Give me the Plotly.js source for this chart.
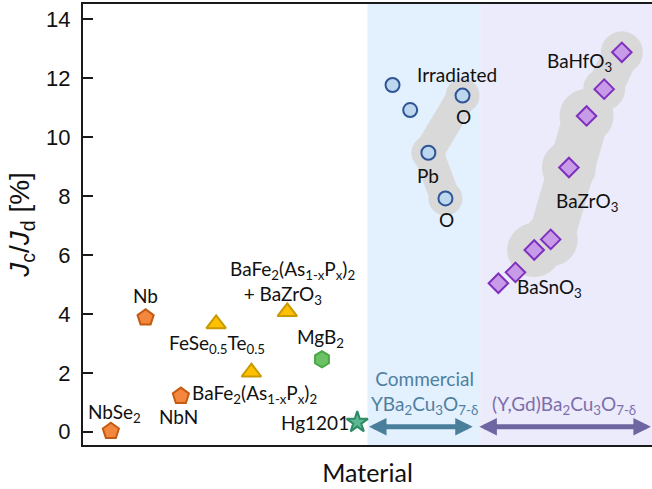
<!DOCTYPE html>
<html>
<head>
<meta charset="utf-8">
<script src="https://cdn.plot.ly/plotly-3.0.1.min.js"></script>
<style>html,body{margin:0;padding:0;background:#fff;}#chart{width:652px;height:489px;}</style>
</head>
<body>
<div id="chart"></div>
<script>
// ---- data ----
// conventional superconductors (x = material position index, y = Jc/Jd in %)
const convNames = ["NbSe<sub>2</sub>", "Nb", "NbN"];
const convX = [0.49, 1.10, 1.72];
const convY = [0.02, 3.87, 1.21];

const feNames = ["FeSe<sub>0.5</sub>Te<sub>0.5</sub>", "BaFe<sub>2</sub>(As<sub>1-x</sub>P<sub>x</sub>)<sub>2</sub>", "BaFe<sub>2</sub>(As<sub>1-x</sub>P<sub>x</sub>)<sub>2</sub><br>+ BaZrO<sub>3</sub>\u00a0\u00a0\u00a0\u00a0"];
const feX = [2.34, 2.96, 3.59];
const feY = [3.66, 2.02, 4.07];

const mgbX = [4.20];
const mgbY = [2.46];

const hgX = [4.82];
const hgY = [0.32];

// commercial YBCO (irradiated)
const ybcoX = [5.44, 5.75, 6.67, 6.07, 6.37];
const ybcoY = [11.77, 10.92, 11.41, 9.47, 7.92];
const ybcoIrrIdx = [2, 3, 4];   // O, Pb, O irradiated group

// (Y,Gd)BCO with artificial pinning centres
const gdX = [9.47, 9.16, 8.85, 8.54, 8.22, 7.93, 7.60, 7.30];
const gdY = [12.88, 11.63, 10.72, 8.97, 6.53, 6.17, 5.41, 5.04];
const hfIdx = [0, 1];
const zrIdx = [2, 3, 4, 5];

// material regions
const regionNames = ["Commercial<br>YBa<sub>2</sub>Cu<sub>3</sub>O<sub>7-δ</sub>", "(Y,Gd)Ba<sub>2</sub>Cu<sub>3</sub>O<sub>7-δ</sub>"];
const regionStart = [5.0, 6.94];
const regionEnd = [6.85, 9.98];
const regionBgStart = [5.0, 6.98];
const regionBgEnd = [6.98, 10.0];

const yTicks = [0, 2, 4, 6, 8, 10, 12, 14];

// ---- styling ----
const LBL = {family: "Lato, 'Open Sans', sans-serif", size: 19, color: "#111"};
const pick = (arr, idx) => idx.map(i => arr[i]);

const traces = [];
function blob(xs, ys, w, ms) {
  traces.push({x: xs, y: ys, mode: "lines+markers", type: "scatter", hoverinfo: "skip",
    line: {color: "#d9d9d9", width: w},
    marker: {color: "#d9d9d9", size: ms, line: {width: 0}}, showlegend: false});
}
blob(pick(ybcoX, ybcoIrrIdx), pick(ybcoY, ybcoIrrIdx), 30, 34);
blob(pick(gdX, hfIdx), pick(gdY, hfIdx), 36, 42);
blob(pick(gdX, zrIdx), pick(gdY, zrIdx), 46, 54);

traces.push({x: convX, y: convY, mode: "markers", type: "scatter",
  marker: {symbol: "pentagon", size: 17, color: "#f4873e", line: {color: "#c55a11", width: 2}}});
traces.push({x: feX, y: feY, mode: "markers", type: "scatter",
  marker: {symbol: "triangle-up", size: 17, color: "#ffc000", line: {color: "#c89a00", width: 2}}});
traces.push({x: mgbX, y: mgbY, mode: "markers", type: "scatter",
  marker: {symbol: "hexagon", size: 16, color: "#6cc166", line: {color: "#4aa845", width: 2}}});
traces.push({x: hgX, y: hgY, mode: "markers", type: "scatter",
  marker: {symbol: "star", size: 16, color: "#5cb892", line: {color: "#2e8a64", width: 2}}});
traces.push({x: ybcoX, y: ybcoY, mode: "markers", type: "scatter",
  marker: {symbol: "circle", size: 14, color: "#bdd7ee", line: {color: "#2f5597", width: 2}}});
traces.push({x: gdX, y: gdY, mode: "markers", type: "scatter",
  marker: {symbol: "diamond", size: 15, color: "#c89be8", line: {color: "#7f30be", width: 2}}});

const regionFill = ["#e3f0fd", "#ebebfb"];
const regionColor = ["#4a7f9c", "#6e66a0"];
const regionTextColor = ["#4f80a0", "#7d6eaa"];

const shapes = regionBgStart.map((s, i) => ({type: "rect", xref: "x", yref: "paper",
  x0: s, x1: regionBgEnd[i], y0: 0, y1: 1, fillcolor: regionFill[i], line: {width: 0}, layer: "below"}));

const annotations = [];
function lbl(text, x, y, extra) {
  annotations.push(Object.assign({text: text, x: x, y: y, xref: "x", yref: "y", showarrow: false, font: LBL}, extra || {}));
}
lbl(convNames[0], 0.56, 0.63);
lbl(convNames[1], 1.10, 4.64);
lbl(convNames[2], 1.67, 0.51);
lbl(feNames[0], 2.35, 2.98);
lbl(feNames[1], 3.02, 1.28);
lbl(feNames[2], 3.68, 5.06);
lbl("MgB<sub>2</sub>", 4.18, 3.18);
lbl("Hg1201", 4.08, 0.30);
lbl("Irradiated", 6.58, 12.13);
lbl("O", 6.68, 10.69);
lbl("Pb", 6.07, 8.71);
lbl("O", 6.38, 7.19);
lbl("BaHfO<sub>3</sub>", 8.73, 12.54);
lbl("BaZrO<sub>3</sub>", 8.85, 7.81);
lbl("BaSnO<sub>3</sub>", 8.20, 4.87);
lbl(regionNames[0], 6.00, 1.32, {font: Object.assign({}, LBL, {color: regionTextColor[0]})});
lbl(regionNames[1], 8.45, 0.91, {font: Object.assign({}, LBL, {color: regionTextColor[1]})});

const arrowY = 0.17;
regionStart.forEach((s, i) => {
  annotations.push({x: regionEnd[i], y: arrowY, ax: s, ay: arrowY, xref: "x", yref: "y", axref: "x", ayref: "y",
    text: "", showarrow: true, arrowhead: 2, arrowside: "end+start", arrowsize: 0.7, arrowwidth: 5,
    arrowcolor: regionColor[i], standoff: 0, startstandoff: 0});
});

const layout = {
  width: 652, height: 489,
  margin: {l: 83, r: 0, t: 4, b: 44},
  paper_bgcolor: "#ffffff", plot_bgcolor: "#ffffff",
  showlegend: false,
  xaxis: {range: [0, 10], showticklabels: false, ticks: "", showgrid: false, zeroline: false,
    showline: true, linecolor: "#1a1a1a", linewidth: 2, mirror: true,
    title: {text: "Material", font: {family: "Lato, 'Open Sans', sans-serif", size: 25, color: "#111"}, standoff: 18}},
  yaxis: {range: [-0.45, 14.52], tickvals: yTicks, ticktext: yTicks.map(String), ticks: "inside", ticklen: 10, tickwidth: 2,
    tickcolor: "#1a1a1a", showgrid: false, zeroline: false, showline: true, linecolor: "#1a1a1a", linewidth: 2,
    tickfont: {family: "'Liberation Sans', Arial, sans-serif", size: 22, color: "#111"}, ticklabelstandoff: 6,
    title: {text: "<i>J</i><sub>c</sub>/<i>J</i><sub>d</sub> [%]", font: {family: "'Liberation Sans', Arial, sans-serif", size: 28, color: "#111"}, standoff: 8}},
  shapes: shapes,
  annotations: annotations
};

Plotly.newPlot("chart", traces, layout, {staticPlot: true, displayModeBar: false});
</script>
</body>
</html>
